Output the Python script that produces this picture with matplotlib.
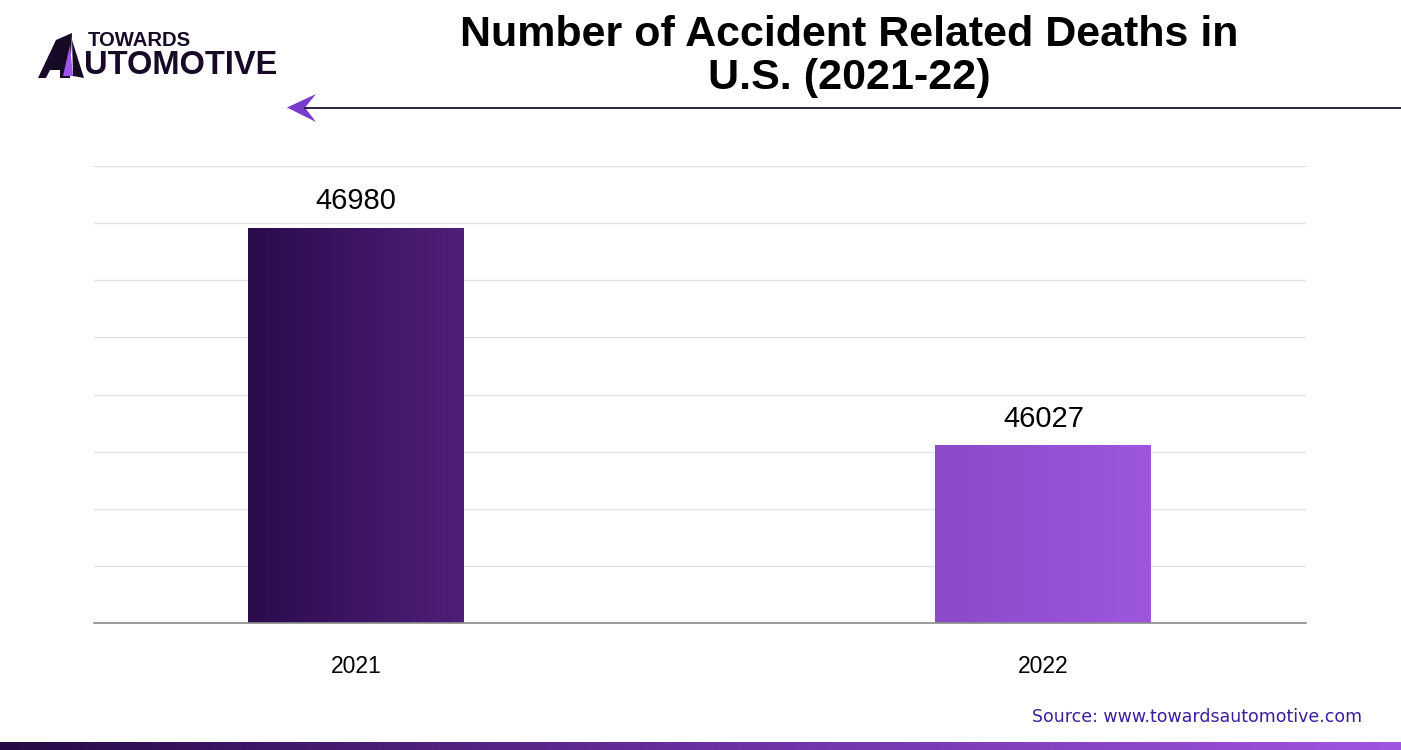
import numpy as np
import matplotlib
matplotlib.use("Agg")
import matplotlib.pyplot as plt
from matplotlib.colors import LinearSegmentedColormap
from matplotlib.patches import Polygon
from matplotlib.lines import Line2D

# ---- data ----
years = ["2021", "2022"]
deaths = [46980, 46027]
y_min, y_max, y_step = 45250, 47250, 250
bar_colors = [("#2a0b4c", "#4f1f79"), ("#8b4ac9", "#9e56e0")]

W, H = 1401, 750
fig = plt.figure(figsize=(W / 100, H / 100), dpi=100)
fig.patch.set_facecolor("white")

def fx(px):
    return px / W

def fy(py):
    return 1 - py / H

# ---- main axes ----
ax = fig.add_axes([fx(94), fy(623), fx(1306) - fx(94), fy(166) - fy(623)])
ax.set_yticks(np.arange(y_min, y_max + 1, y_step))
ax.yaxis.grid(True, color="#e2e2e2", linewidth=1.0)
ax.set_axisbelow(True)
ax.tick_params(axis="y", length=0, labelleft=False)
ax.tick_params(axis="x", length=0, labelsize=16.5, pad=23)
for s in ["top", "right", "left"]:
    ax.spines[s].set_visible(False)
ax.spines["bottom"].set_color("#8a8a8a")
ax.spines["bottom"].set_linewidth(1.2)

xpos = np.arange(len(years))
bw = 0.314
bars = ax.bar(xpos, deaths, width=bw, color="none", zorder=2)
for b, (c0, c1), v in zip(bars, bar_colors, deaths):
    cmap = LinearSegmentedColormap.from_list("g", [c0, c1])
    x0 = b.get_x()
    grad = np.linspace(0, 1, 256).reshape(1, -1)
    im = ax.imshow(grad, cmap=cmap, aspect="auto",
                   extent=[x0, x0 + b.get_width(), y_min, v], zorder=2)
    im.set_clip_path(b)
    ax.text(b.get_x() + b.get_width() / 2, v + 55, f"{v}", ha="center",
            va="bottom", fontsize=21, family="Liberation Sans", color="black")
ax.set_xticks(xpos)
ax.set_xticklabels(years, family="Liberation Sans")
ax.set_xlim(-0.381, 1.382)
ax.set_ylim(y_min, y_max)

# ---- title ----
fig.text(fx(849), fy(35), "Number of Accident Related Deaths in", ha="center",
         va="center", fontsize=31, fontweight="bold", family="Liberation Sans")
fig.text(fx(849), fy(78), "U.S. (2021-22)", ha="center", va="center",
         fontsize=31, fontweight="bold", family="Liberation Sans")

# ---- header line with arrow ----
fig.add_artist(Line2D([fx(305), fx(1401)], [fy(107.5), fy(107.5)],
                      color="#1c1230", linewidth=1.3))
fig.add_artist(Polygon([[fx(287), fy(107.5)], [fx(316), fy(94)],
                        [fx(305), fy(107.5)], [fx(316), fy(122)]],
                       closed=True, facecolor="#7a3bcc", edgecolor="none"))

# ---- logo ----
dark = "#170a26"
fig.add_artist(Polygon([[fx(38), fy(78)], [fx(56), fy(40)], [fx(72), fy(33)],
                        [fx(70), fy(78)], [fx(60), fy(78)], [fx(60), fy(70)],
                        [fx(50), fy(70)], [fx(46), fy(78)]],
                       closed=True, facecolor=dark, edgecolor="none"))
fig.add_artist(Polygon([[fx(63), fy(76)], [fx(70), fy(45)], [fx(73), fy(76)]],
                       closed=True, facecolor="#a055ee", edgecolor="none"))
fig.add_artist(Polygon([[fx(73), fy(76)], [fx(72), fy(40)], [fx(84), fy(78)]],
                       closed=True, facecolor=dark, edgecolor="none"))
fig.text(fx(88), fy(41), "TOWARDS", ha="left", va="center", fontsize=14.6,
         fontweight="bold", family="Liberation Sans", color=dark)
fig.text(fx(84), fy(66), "UTOMOTIVE", ha="left", va="center", fontsize=23.5,
         fontweight="bold", family="Liberation Sans", color=dark)

# ---- source ----
fig.text(fx(1362), fy(717), "Source: www.towardsautomotive.com", ha="right",
         va="center", fontsize=12.5, family="DejaVu Sans", color="#3a1e9c")

# ---- bottom gradient strip ----
bax = fig.add_axes([0, 0, 1, 8 / H])
bax.axis("off")
bcmap = LinearSegmentedColormap.from_list("b", ["#250a45", "#6a2fa0", "#a055e2"])
bax.imshow(np.linspace(0, 1, 512).reshape(1, -1), cmap=bcmap, aspect="auto",
           extent=[0, 1, 0, 1])
bax.set_xlim(0, 1)
bax.set_ylim(0, 1)

fig.savefig("out.png", dpi=100, facecolor="white")
